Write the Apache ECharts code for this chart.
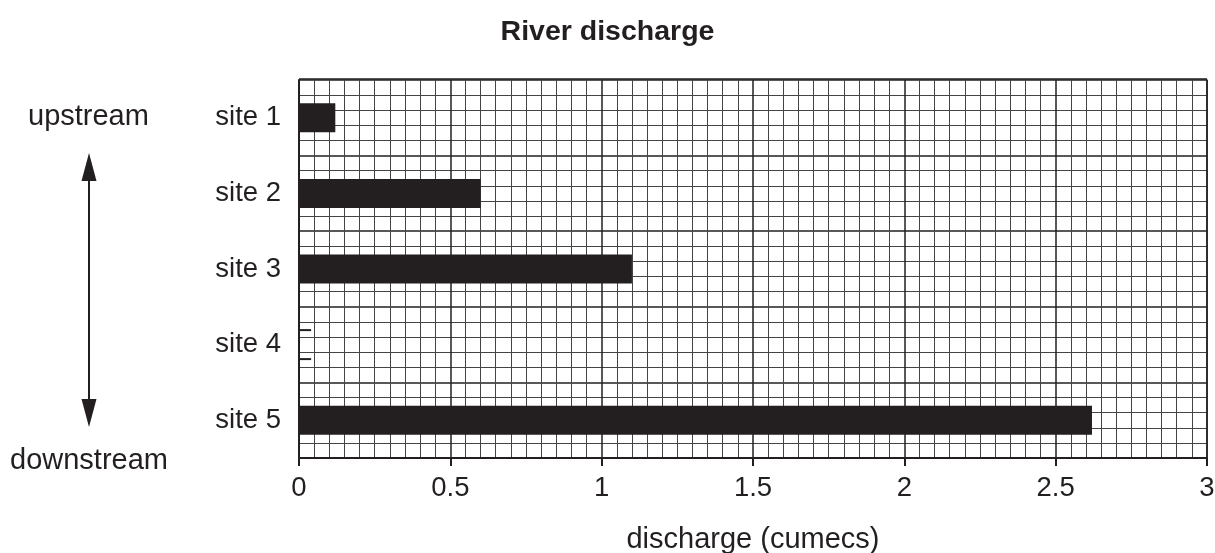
<!DOCTYPE html>
<html>
<head>
<meta charset="utf-8">
<script src="https://cdn.jsdelivr.net/npm/echarts@6/dist/echarts.min.js"></script>
<style>
html,body{margin:0;padding:0;background:#fff;}
#chart{width:1215px;height:553px;}
</style>
</head>
<body>
<div id="chart"></div>
<script>
var categories = ['site 1', 'site 2', 'site 3', 'site 4', 'site 5'];
var discharge = [0.12, 0.6, 1.1, null, 2.62];
var site4Marks = [['site 4', 0.04]];
var xTicks = [0, 0.5, 1, 1.5, 2, 2.5, 3];

var INK = '#231f20';
var FONT = '"Liberation Sans", Arial, Helvetica, sans-serif';
var chart = echarts.init(document.getElementById('chart'), null, {renderer: 'canvas'});

var option = {
  animation: false,
  backgroundColor: '#ffffff',
  textStyle: {fontFamily: FONT, color: INK},
  title: {
    text: 'River discharge',
    left: 'center',
    top: 13,
    textStyle: {fontFamily: FONT, fontWeight: 'bold', fontSize: 28.5, color: INK}
  },
  grid: {left: 299, right: 8, top: 80, bottom: 95, containLabel: false, outerBoundsMode: 'none'},
  xAxis: {
    type: 'value',
    min: xTicks[0],
    max: xTicks[xTicks.length - 1],
    interval: 0.5,
    name: 'discharge (cumecs)',
    nameLocation: 'middle',
    nameGap: 67,
    nameTextStyle: {fontFamily: FONT, fontSize: 29, color: INK},
    axisLine: {show: true, lineStyle: {color: INK, width: 2}},
    axisTick: {show: true, length: 8, lineStyle: {color: INK, width: 2}},
    axisLabel: {
      fontFamily: FONT, fontSize: 27.5, color: INK, margin: 16,
      formatter: function (v) { return String(v); }
    },
    splitLine: {show: true, lineStyle: {color: INK, width: 1.5}},
    minorTick: {show: false, splitNumber: 10},
    minorSplitLine: {show: true, lineStyle: {color: '#444', width: 1}}
  },
  yAxis: [
    {
      type: 'category',
      data: categories,
      inverse: true,
      axisLine: {show: true, lineStyle: {color: INK, width: 2}},
      axisTick: {show: false},
      axisLabel: {fontFamily: FONT, fontSize: 27.5, color: INK, margin: 18},
      splitLine: {show: false}
    },
    {
      type: 'value',
      min: 0,
      max: 25,
      interval: 5,
      position: 'right',
      axisLine: {show: true, lineStyle: {color: INK, width: 1.5}},
      axisTick: {show: false},
      axisLabel: {show: false},
      splitLine: {show: true, lineStyle: {color: INK, width: 1.5}},
      minorTick: {show: false, splitNumber: 5},
      minorSplitLine: {show: true, lineStyle: {color: '#444', width: 1}}
    }
  ],
  graphic: [
    {type: 'text', left: 28, top: 102, style: {text: 'upstream', font: '29px ' + FONT, fill: INK}},
    {type: 'text', left: 10, top: 446, style: {text: 'downstream', font: '29px ' + FONT, fill: INK}},
    {type: 'line', shape: {x1: 89, y1: 178, x2: 89, y2: 402}, style: {stroke: INK, lineWidth: 2}},
    {type: 'polygon', shape: {points: [[89, 153], [81.5, 181], [96.5, 181]]}, style: {fill: INK}},
    {type: 'polygon', shape: {points: [[89, 427], [81.5, 399], [96.5, 399]]}, style: {fill: INK}},
    {type: 'line', shape: {x1: 299, y1: 79, x2: 1207, y2: 79}, style: {stroke: INK, lineWidth: 1.5}}
  ],
  series: [
    {
      type: 'bar',
      data: discharge,
      yAxisIndex: 0,
      barWidth: 29,
      itemStyle: {color: INK},
      z: 5
    },
    {
      type: 'custom',
      yAxisIndex: 0,
      data: site4Marks,
      encode: {x: 1, y: 0},
      z: 6,
      renderItem: function (params, api) {
        var start = api.coord([0, api.value(0)]);
        var end = api.coord([api.value(1), api.value(0)]);
        var half = 14.5;
        return {
          type: 'group',
          children: [
            {type: 'line', shape: {x1: start[0], y1: start[1] - half, x2: end[0], y2: end[1] - half}, style: {stroke: INK, lineWidth: 2}},
            {type: 'line', shape: {x1: start[0], y1: start[1] + half, x2: end[0], y2: end[1] + half}, style: {stroke: INK, lineWidth: 2}}
          ]
        };
      }
    }
  ]
};
chart.setOption(option);
</script>
</body>
</html>
